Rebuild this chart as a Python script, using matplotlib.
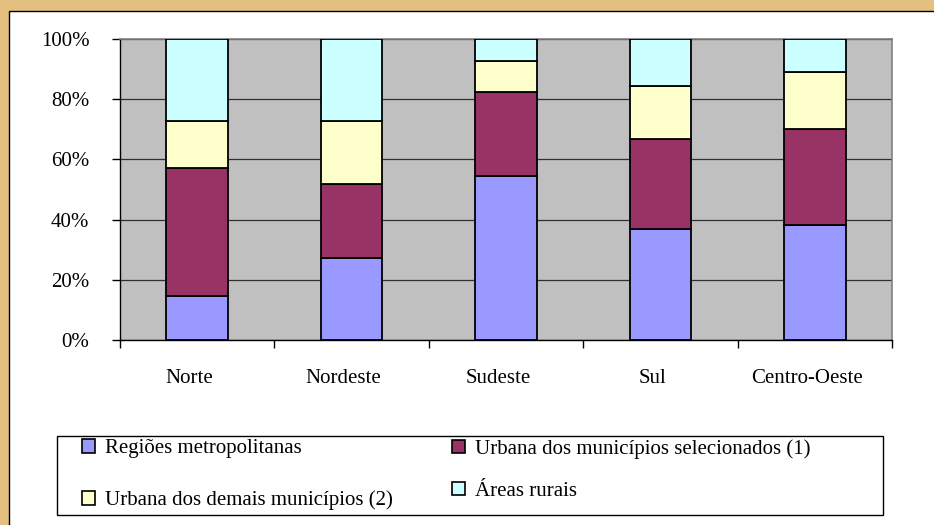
import matplotlib.pyplot as plt
from matplotlib.patches import Rectangle, Patch
from matplotlib.transforms import ScaledTranslation
import numpy as np

regions = ["Norte", "Nordeste", "Sudeste", "Sul", "Centro-Oeste"]

series_names = ["Regiões metropolitanas",
                "Urbana dos municípios selecionados (1)",
                "Urbana dos demais municípios (2)",
                "Áreas rurais"]

# share of each region (%), bottom to top
metropolitanas = [14.7, 27.2, 54.5, 36.9, 38.2]
urbana_selec = [42.5, 24.6, 28.0, 29.9, 31.9]
urbana_demais = [15.7, 21.1, 10.3, 17.6, 18.9]
rurais = [27.1, 27.1, 7.2, 15.6, 11.0]

colors = ["#9999FF", "#993366", "#FFFFCC", "#CCFFFF"]

W, H = 934, 525
FS = 15
plt.rcParams['font.family'] = ['Liberation Serif', 'DejaVu Serif']

fig = plt.figure(figsize=(W / 100, H / 100), dpi=100)
fig.patch.set_facecolor("#E3BF80")

# white panel, black border on left and top
fig.add_artist(Rectangle((9 / W, -0.05), 1.0, (H - 11) / H + 0.05,
                         transform=fig.transFigure, facecolor="white",
                         edgecolor="black", lw=1.0, zorder=-10))

# legend box
fig.add_artist(Rectangle((57 / W, (H - 515) / H), 826 / W, 79 / H,
                         transform=fig.transFigure, facecolor="white",
                         edgecolor="black", lw=1.0, zorder=-5))

ax = fig.add_axes([120 / W, (H - 340) / H, 772 / W, 301 / H])
ax.set_facecolor("#C0C0C0")

series = [metropolitanas, urbana_selec, urbana_demais, rurais]
x = np.arange(len(regions))
bottom = np.zeros(len(regions))
for vals, c in zip(series, colors):
    v = np.array(vals) / 100.0
    ax.bar(x, v, bottom=bottom, width=0.4, color=c, edgecolor="black",
           linewidth=1.3, zorder=3)
    bottom += v

ax.set_xlim(-0.5, len(regions) - 0.5)
ax.set_ylim(0, 1)
yt = np.arange(0, 1.01, 0.2)
ax.set_yticks(yt)
ax.set_yticklabels([f"{int(round(t * 100))}%" for t in yt], fontsize=FS)
ax.yaxis.grid(True, color="#303030", lw=0.9, zorder=1)
ax.set_axisbelow(True)

ax.set_xticks(x)
ax.set_xticklabels(regions, fontsize=FS)
ax.tick_params(axis="x", which="major", length=0, pad=21)
ax.set_xticks(np.arange(-0.5, len(regions)), minor=True)
ax.tick_params(axis="x", which="minor", length=6, width=1, color="black")
ax.tick_params(axis="y", length=6, width=1, pad=16, color="black")

# category labels sit a little left of the bar centres in the original
shift = ScaledTranslation(-8 / 100, 0, fig.dpi_scale_trans)
for lab in ax.get_xticklabels():
    lab.set_transform(lab.get_transform() + shift)

for s in ["top", "right"]:
    ax.spines[s].set_color("#808080")
    ax.spines[s].set_linewidth(1.2)
for s in ["left", "bottom"]:
    ax.spines[s].set_color("black")
    ax.spines[s].set_linewidth(1.0)

handles = [Patch(facecolor=c, edgecolor="black", lw=1.2) for c in colors]
leg_kw = dict(loc="upper left", fontsize=FS, frameon=False,
              handlelength=0.62, handleheight=0.62, handletextpad=0.5,
              borderpad=0, borderaxespad=0)

# left column
leg1 = fig.legend([handles[0], handles[2]], [series_names[0], series_names[2]],
                  bbox_to_anchor=(82 / W, (H - 439) / H),
                  labelspacing=1.55, **leg_kw)
# right column
leg2 = fig.legend([handles[1], handles[3]], [series_names[1], series_names[3]],
                  bbox_to_anchor=(452 / W, (H - 439) / H),
                  labelspacing=1.1, **leg_kw)

fig.savefig("out.png", dpi=100, facecolor=fig.get_facecolor())
